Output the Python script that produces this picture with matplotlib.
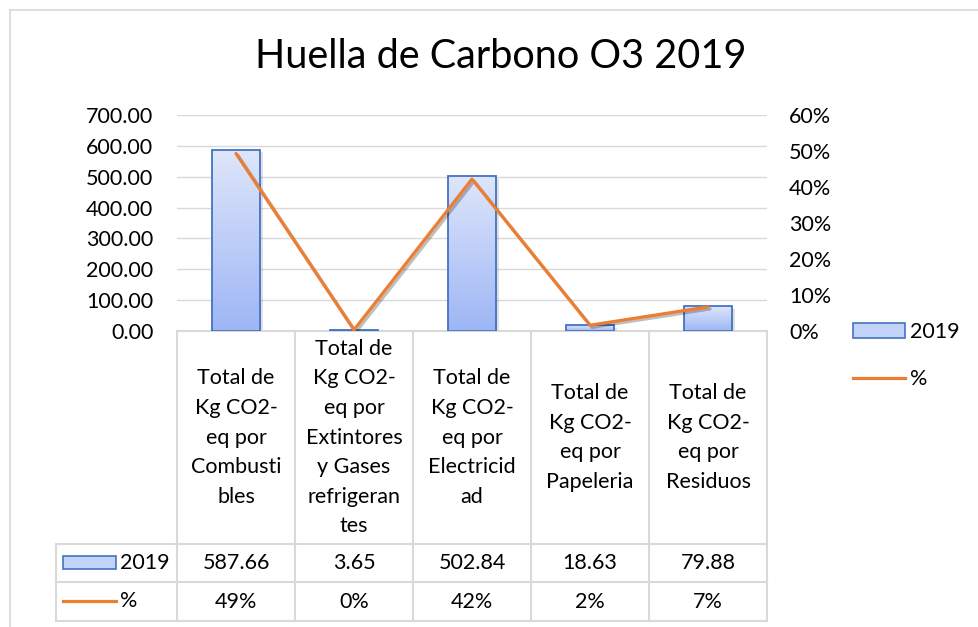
import matplotlib
matplotlib.use("Agg")
import numpy as np
import matplotlib.pyplot as plt
import matplotlib.patheffects as pe
from matplotlib.patches import Rectangle, Patch
from matplotlib.lines import Line2D
from matplotlib.colors import LinearSegmentedColormap
from matplotlib.transforms import blended_transform_factory
from matplotlib.ticker import FuncFormatter

plt.rcParams['font.family'] = ['Lato', 'DejaVu Sans']

# data
title = "Huella de Carbono O3 2019"
categories = [
    "Total de\nKg CO2-\neq por\nCombusti\nbles",
    "Total de\nKg CO2-\neq por\nExtintores\ny Gases\nrefrigeran\ntes",
    "Total de\nKg CO2-\neq por\nElectricid\nad",
    "Total de\nKg CO2-\neq por\nPapeleria",
    "Total de\nKg CO2-\neq por\nResiduos",
]
kg_2019 = [587.66, 3.65, 502.84, 18.63, 79.88]
pct = [0.493, 0.003, 0.422, 0.016, 0.067]
bar_label = "2019"
line_label = "%"
left_ticks = [0, 100, 200, 300, 400, 500, 600, 700]
right_ticks = [0, 0.1, 0.2, 0.3, 0.4, 0.5, 0.6]

# styles
BAR_EDGE = "#4472C4"
BAR_TOP = "#dfe6fb"
BAR_BOTTOM = "#9db6f5"
LINE_COLOR = "#ED7D31"
GRID = "#d9d9d9"
FS = 15.5

W, H = 979, 627
fig = plt.figure(figsize=(W / 100, H / 100), dpi=100)


def fx(px):
    return px / W


def fy(py):
    return 1 - py / H


# outer chart border (cropped at right/bottom)
fig.add_artist(Line2D([fx(10), 1], [fy(10), fy(10)], color=GRID, lw=1.2))
fig.add_artist(Line2D([fx(10), fx(10)], [fy(10), 0], color=GRID, lw=1.2))

ax = fig.add_axes([fx(177), fy(331), fx(767) - fx(177), fy(115) - fy(331)])
x = np.arange(len(categories))

# bars with vertical gradient
shadow = ax.bar(x, kg_2019, width=0.41, color="none", zorder=1,
                path_effects=[pe.SimplePatchShadow(offset=(2, -2), shadow_rgbFace="k", alpha=0.12)])
bars = ax.bar(x, kg_2019, width=0.41, facecolor="none", edgecolor=BAR_EDGE,
              linewidth=1.3, zorder=3)
cmap = LinearSegmentedColormap.from_list("grad", [BAR_BOTTOM, BAR_TOP])
grad = np.linspace(0, 1, 256).reshape(-1, 1)
for b in bars:
    im = ax.imshow(grad, extent=[b.get_x(), b.get_x() + b.get_width(), 0, b.get_height()],
                   origin="lower", cmap=cmap, aspect="auto", zorder=2)
    im.set_clip_path(b)

ax.set_xlim(-0.5, len(categories) - 0.5)
ax.set_ylim(0, 700)
ax.set_yticks(left_ticks)
ax.yaxis.set_major_formatter(FuncFormatter(lambda v, p: f"{v:.2f}"))
ax.set_xticks([])
ax.yaxis.grid(True, color=GRID, lw=1)
ax.set_axisbelow(True)
ax.tick_params(axis="y", length=0, pad=17, labelsize=FS)
for s in ax.spines.values():
    s.set_visible(False)

ax2 = ax.twinx()
ax2.plot(x, pct, color=LINE_COLOR, lw=2.3, solid_capstyle="round",
         path_effects=[pe.SimpleLineShadow(offset=(1.5, -1.5), alpha=0.25), pe.Normal()])
ax2.set_ylim(0, 0.6)
ax2.set_yticks(right_ticks)
ax2.yaxis.set_major_formatter(FuncFormatter(lambda v, p: f"{v:.0%}"))
ax2.tick_params(axis="y", length=0, pad=16, labelsize=FS)
for s in ax2.spines.values():
    s.set_visible(False)

fig.text(fx(501), fy(57), title, ha="center", va="center", fontsize=28.5)

# data table below the plot
trans = blended_transform_factory(ax.transData, ax.transAxes)
ph = 331 - 115


def ry(py):
    return (331 - py) / ph


r0, r1, r2, r3 = ry(331), ry(544), ry(582), ry(621)
xl, xr = -0.5, len(categories) - 0.5
xlab = -0.5 - 121 / 118
tkw = dict(transform=trans, clip_on=False, color=GRID, lw=1.5)
ax.plot([xl, xr], [r0, r0], **tkw)
ax.plot([xlab, xr], [r1, r1], **tkw)
ax.plot([xlab, xr], [r2, r2], **tkw)
ax.plot([xlab, xr], [r3, r3], **tkw)
ax.plot([xlab, xlab], [r1, r3], **tkw)
for e in np.arange(len(categories) + 1) - 0.5:
    ax.plot([e, e], [r0, r3], **tkw)

for i, cat in enumerate(categories):
    ax.text(i, (r0 + r1) / 2, cat, transform=trans, ha="center", va="center",
            fontsize=FS, linespacing=1.6)
    ax.text(i, (r1 + r2) / 2, f"{kg_2019[i]:.2f}", transform=trans,
            ha="center", va="center", fontsize=FS)
    ax.text(i, (r2 + r3) / 2, f"{pct[i]:.0%}", transform=trans,
            ha="center", va="center", fontsize=FS)

# legend keys inside the table
fig.add_artist(Rectangle((fx(63), fy(569)), fx(116) - fx(63), fy(556) - fy(569),
                         facecolor="#c3d2f8", edgecolor=BAR_EDGE, lw=1.2))
fig.text(fx(120), fy(563), bar_label, ha="left", va="center", fontsize=FS)
fig.add_artist(Line2D([fx(63), fx(116)], [fy(601), fy(601)], color=LINE_COLOR, lw=2.3))
fig.text(fx(120), fy(601), line_label, ha="left", va="center", fontsize=FS)

# side legend
handles = [Patch(facecolor="#c3d2f8", edgecolor=BAR_EDGE, lw=1.2),
           Line2D([], [], color=LINE_COLOR, lw=2.3)]
fig.legend(handles, [bar_label, line_label], loc="upper left",
           bbox_to_anchor=(fx(853), fy(322)), frameon=False, fontsize=FS,
           handlelength=2.4, handleheight=0.65, handletextpad=0.25,
           labelspacing=1.25, borderpad=0, borderaxespad=0)

fig.savefig("out.png", dpi=100)
